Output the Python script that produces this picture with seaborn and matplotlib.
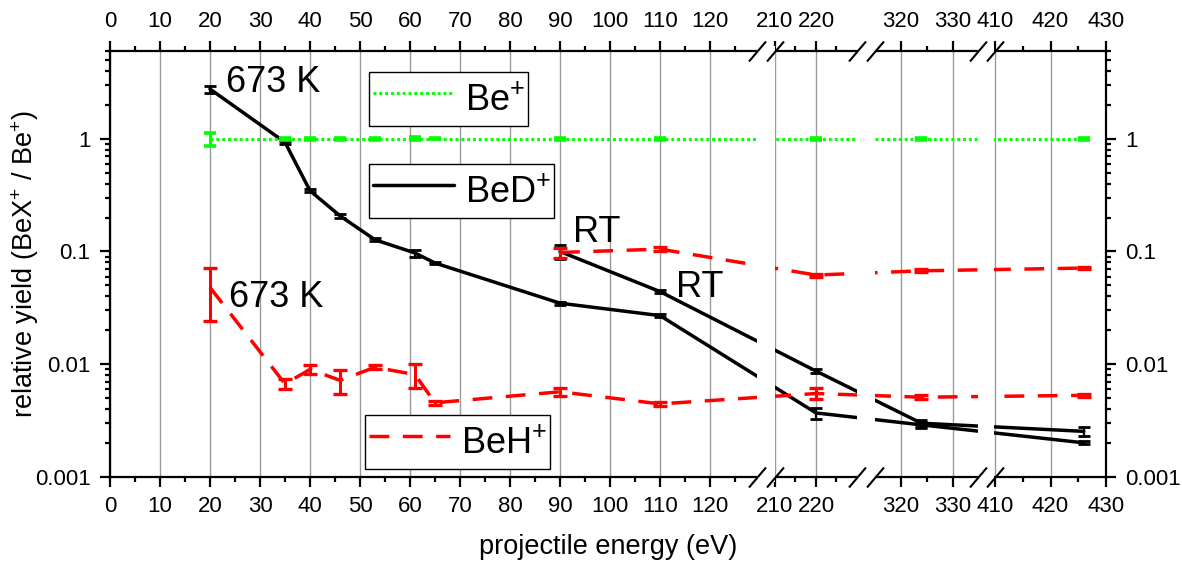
import numpy as np
import matplotlib
matplotlib.use("Agg")
import matplotlib.pyplot as plt
from matplotlib.lines import Line2D
from matplotlib.ticker import FixedLocator, FuncFormatter, LogLocator, NullFormatter
import seaborn as sns

# ---------------------------------------------------------------- data
# projectile energies (eV)
energy_hot = [20, 35, 40, 46, 53, 61, 65, 90, 110, 220, 324, 426]
energy_rt = [90, 110, 220, 324, 426]

# relative yields BeX+ / Be+ at 673 K
be_hot = [1.0, 1.0, 1.0, 1.0, 1.0, 1.0, 1.0, 1.0, 1.0, 1.0, 1.0, 1.0]
be_hot_err = [0.13, 0.025, 0.02, 0.025, 0.025, 0.03, 0.015, 0.02, 0.025, 0.025, 0.02, 0.025]
bed_hot = [2.76, 0.93, 0.346, 0.207, 0.127, 0.097, 0.079, 0.0348, 0.027, 0.0037, 0.0029, 0.00201]
bed_hot_err = [0.2, 0.03, 0.012, 0.008, 0.004, 0.007, 0.002, 0.001, 0.0008, 0.0004, 0.0002, 0.00006]
beh_hot = [0.048, 0.0067, 0.0090, 0.0072, 0.0094, 0.0081, 0.00455, 0.0057, 0.00445, 0.0055, 0.0051, 0.0053]
beh_hot_err = [0.024, 0.0007, 0.0008, 0.0017, 0.0004, 0.002, 0.0002, 0.0005, 0.0002, 0.0006, 0.0002, 0.0002]

# relative yields at room temperature
bed_rt = [0.10, 0.0441, 0.0087, 0.0030, 0.00254]
bed_rt_err = [0.015, 0.0015, 0.0004, 0.0002, 0.00022]
beh_rt = [0.098, 0.105, 0.0618, 0.0674, 0.0713]
beh_rt_err = [0.01, 0.004, 0.002, 0.002, 0.002]

# axis ticks
major_ticks = [0, 10, 20, 30, 40, 50, 60, 70, 80, 90, 100, 110, 120, 210, 220, 320, 330, 410, 420, 430]
minor_ticks = [5, 15, 25, 35, 45, 55, 65, 75, 85, 95, 105, 115, 125, 215, 225, 325, 415, 425]
y_ticks = [0.001, 0.01, 0.1, 1]
y_tick_labels = ["0.001", "0.01", "0.1", "1"]

# broken energy axis: data knots -> pixel offset along the axis
break_x = np.array([0, 129.5, 210, 230, 315, 335, 410, 430])
break_s = np.array([0, 647.5, 665, 747, 764.7, 868.5, 885, 996])
gaps = [(129.5, 210, 0), (230, 315, 0), (335, 410, 5)]

GREEN = "#00ff00"
RED = "#ff0000"
BLACK = "#000000"


def fwd(x):
    x = np.asarray(x, dtype=float)
    s = np.interp(x, break_x, break_s)
    s = np.where(x < break_x[0], break_s[0] + (x - break_x[0]) * 5.0, s)
    s = np.where(x > break_x[-1], break_s[-1] + (x - break_x[-1]) * 5.55, s)
    return s


def inv(s):
    s = np.asarray(s, dtype=float)
    x = np.interp(s, break_s, break_x)
    x = np.where(s < break_s[0], break_x[0] + (s - break_s[0]) / 5.0, x)
    x = np.where(s > break_s[-1], break_x[-1] + (s - break_s[-1]) / 5.55, x)
    return x


# ---------------------------------------------------------------- style
sns.set_theme(style="ticks")
plt.rcParams["font.family"] = ["Liberation Sans", "DejaVu Sans"]
plt.rcParams["mathtext.fontset"] = "custom"
plt.rcParams["mathtext.rm"] = "Liberation Sans"
plt.rcParams["mathtext.it"] = "Liberation Sans:italic"
plt.rcParams["mathtext.bf"] = "Liberation Sans:bold"
plt.rcParams["text.color"] = "black"
plt.rcParams["axes.labelcolor"] = "black"

W, H = 1182, 563
fig = plt.figure(figsize=(W / 100, H / 100), dpi=100)
ax = fig.add_axes([110 / W, 1 - 477 / H, 996 / W, 426 / H])

ax.set_xscale("function", functions=(fwd, inv))
ax.set_yscale("log")
ax.set_xlim(0, 430)
ax.set_ylim(0.001, 6.0)

# ---------------------------------------------------------------- series
dash_red = (0, (5.7, 3.9))
dot_green = (0, (1.0, 1.0))
LW_BLACK, LW_RED, LW_GREEN = 2.5, 2.5, 2.1

sns.lineplot(x=energy_hot, y=bed_hot, ax=ax, color=BLACK, lw=LW_BLACK, zorder=2)
sns.lineplot(x=energy_rt, y=bed_rt, ax=ax, color=BLACK, lw=LW_BLACK, zorder=2)
ax.errorbar(energy_hot, bed_hot, yerr=bed_hot_err, fmt="none", ecolor=BLACK,
            elinewidth=1.6, capsize=4.3, capthick=2.0, zorder=2.1)
ax.errorbar(energy_rt, bed_rt, yerr=bed_rt_err, fmt="none", ecolor=BLACK,
            elinewidth=1.6, capsize=4.3, capthick=2.0, zorder=2.1)

sns.lineplot(x=energy_hot, y=beh_hot, ax=ax, color=RED, lw=LW_RED, linestyle=dash_red, zorder=2.2)
sns.lineplot(x=energy_rt, y=beh_rt, ax=ax, color=RED, lw=LW_RED, linestyle=dash_red, zorder=2.2)
ax.errorbar(energy_hot, beh_hot, yerr=beh_hot_err, fmt="none", ecolor=RED,
            elinewidth=2.2, capsize=5.2, capthick=2.4, zorder=2.3)
ax.errorbar(energy_rt, beh_rt, yerr=beh_rt_err, fmt="none", ecolor=RED,
            elinewidth=2.2, capsize=5.2, capthick=2.4, zorder=2.3)

sns.lineplot(x=energy_hot, y=be_hot, ax=ax, color=GREEN, lw=LW_GREEN, linestyle=dot_green, zorder=2.2)
ax.errorbar(energy_hot, be_hot, yerr=be_hot_err, fmt="none", ecolor=GREEN,
            elinewidth=2.2, capsize=4.5, capthick=2.6, zorder=2.3)

# ---------------------------------------------------------------- axes
ax.xaxis.set_major_locator(FixedLocator(major_ticks))
ax.xaxis.set_minor_locator(FixedLocator(minor_ticks))
ax.xaxis.set_major_formatter(FuncFormatter(lambda v, p: f"{v:.0f}"))
ax.xaxis.set_minor_formatter(NullFormatter())
ax.yaxis.set_major_locator(FixedLocator(y_ticks))
ax.yaxis.set_major_formatter(FuncFormatter(
    lambda v, p: y_tick_labels[int(np.argmin(np.abs(np.log10(y_ticks) - np.log10(v))))]))
ax.yaxis.set_minor_locator(LogLocator(base=10, subs=np.arange(2, 10), numticks=20))
ax.yaxis.set_minor_formatter(NullFormatter())

ax.grid(True, which="major", axis="x", color="#9a9a9a", lw=1.0)
ax.grid(False, axis="y")
for sp in ax.spines.values():
    sp.set_linewidth(1.6)
    sp.set_color(BLACK)

ax.tick_params(axis="both", which="both", direction="out", color=BLACK,
               labelcolor=BLACK, labelsize=16, width=1.6)
ax.tick_params(axis="both", which="major", length=7)
ax.tick_params(axis="both", which="minor", length=3.6)
ax.tick_params(axis="x", which="both", top=True, labeltop=True, pad=7)
ax.tick_params(axis="y", which="both", right=True, labelright=True, pad=7)

ax.set_xlabel("projectile energy (eV)", fontsize=19.5, labelpad=12)
ax.set_ylabel("relative yield (BeX$^{+}$ / Be$^{+}$)", fontsize=19.5)
ax.yaxis.set_label_coords(-0.0855, 0.5)
ax.yaxis.label.set_va("center")

# blank the break regions and mark them with double slashes
for x0, x1, trim in gaps:
    ax.axvspan(x0, x1 - trim, ymin=-0.012, ymax=1.012, color="white",
               lw=0, zorder=2.6, clip_on=False)
slash = [(-1, -1.18), (1, 1.18)]
for x0, x1, _ in gaps:
    ax.plot([x0, x0, x1, x1], [0, 1, 0, 1], transform=ax.get_xaxis_transform(),
            marker=slash, markersize=14.4, ls="none", color=BLACK, mew=1.5,
            clip_on=False, zorder=4)

# ---------------------------------------------------------------- labels
ax.text(23.2, 2.61, "673 K", fontsize=26, va="baseline", ha="left")
ax.text(23.8, 0.0325, "673 K", fontsize=26, va="baseline", ha="left")
ax.text(92.6, 0.122, "RT", fontsize=26, va="baseline", ha="left")
ax.text(113.2, 0.0396, "RT", fontsize=26, va="baseline", ha="left")

# ---------------------------------------------------------------- legends
legend_specs = [
    (Line2D([], [], color=GREEN, lw=LW_GREEN, linestyle=dot_green), "Be$^{+}$", 369, 72),
    (Line2D([], [], color=BLACK, lw=LW_BLACK), "BeD$^{+}$", 369, 164),
    (Line2D([], [], color=RED, lw=LW_RED, linestyle=dash_red), "BeH$^{+}$", 365, 415),
]
for handle, label, lx, ly in legend_specs:
    leg = fig.legend(handles=[handle], labels=[label], loc="upper left",
                     bbox_to_anchor=(lx / W, 1 - ly / H), bbox_transform=fig.transFigure,
                     fontsize=26, frameon=True, fancybox=False, framealpha=1,
                     edgecolor=BLACK, borderpad=0.1, handlelength=2.25, handleheight=1.6,
                     handletextpad=0.3, borderaxespad=0)
    leg.get_frame().set_linewidth(1.0)

fig.savefig("out.png", dpi=100)
